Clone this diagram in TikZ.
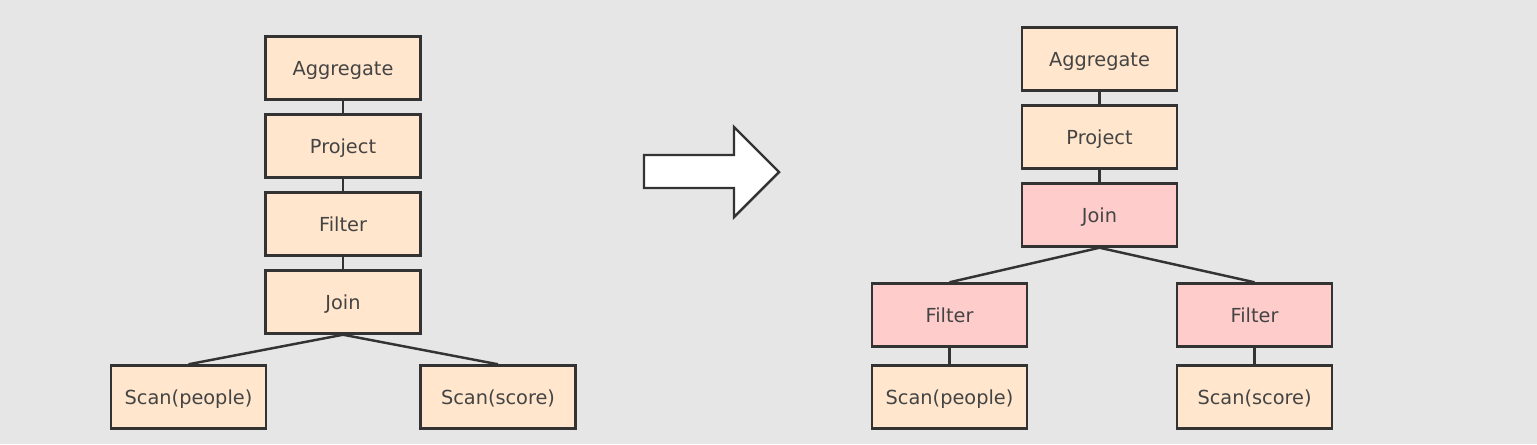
\documentclass[tikz,border=0pt]{standalone}
\usepackage{fontspec}
\setmainfont{DejaVu Sans}
\usepackage{tikz}
\usetikzlibrary{positioning,shapes,arrows}

\definecolor{bgray}{HTML}{E6E6E6}
\definecolor{peach}{HTML}{FFE6CC}
\definecolor{rose}{HTML}{FFCCCC}
\definecolor{edgec}{HTML}{333333}
\definecolor{txtc}{HTML}{444444}

\tikzset{
	op/.style={rectangle, draw=edgec, line width=1.4pt, fill=peach, text=txtc,
		minimum width=3.1cm, minimum height=1.26cm, text height=0.95em, text depth=0.12em,
		font=\fontsize{11}{13}\selectfont},
	pushed/.style={op, fill=rose},
	link/.style={draw=edgec, line width=1.4pt}
}

\begin{document}
\begin{tikzpicture}[x=0.02cm, y=-0.02cm]
		\fill[bgray] (0,0) rectangle (1537,444);
		\useasboundingbox (0,0) rectangle (1537,444);
		% before
		\node[op] (Agg1) at (343, 68) {Aggregate};
		\node[op] (Proj1) at (343, 146) {Project};
		\node[op] (Filt1) at (343, 224) {Filter};
		\node[op] (Join1) at (343, 302) {Join};
		\node[op] (ScanP1) at (188.5, 397) {Scan(people)};
		\node[op] (ScanS1) at (498, 397) {Scan(score)};
		\draw[link] (Agg1) -- (Proj1);
		\draw[link] (Proj1) -- (Filt1);
		\draw[link] (Filt1) -- (Join1);
		\draw[link] (Join1.south) -- (ScanP1.north);
		\draw[link] (Join1.south) -- (ScanS1.north);
		% arrow
		\draw[draw=edgec, line width=1.4pt, fill=white, line join=miter]
			(644,155) -- (734,155) -- (734,127) -- (779,172) -- (734,217)
			-- (734,188) -- (644,188) -- cycle;
		% after
		\node[op] (Agg2) at (1099.5, 59) {Aggregate};
		\node[op] (Proj2) at (1099.5, 137) {Project};
		\node[pushed] (Join2) at (1099.5, 215) {Join};
		\node[pushed] (FiltP2) at (949.5, 315) {Filter};
		\node[pushed] (FiltS2) at (1254.5, 315) {Filter};
		\node[op] (ScanP2) at (949.5, 397) {Scan(people)};
		\node[op] (ScanS2) at (1254.5, 397) {Scan(score)};
		\draw[link] (Agg2) -- (Proj2);
		\draw[link] (Proj2) -- (Join2);
		\draw[link] (Join2.south) -- (FiltP2.north);
		\draw[link] (Join2.south) -- (FiltS2.north);
		\draw[link] (FiltP2) -- (ScanP2);
		\draw[link] (FiltS2) -- (ScanS2);
	\end{tikzpicture}
\end{document}
